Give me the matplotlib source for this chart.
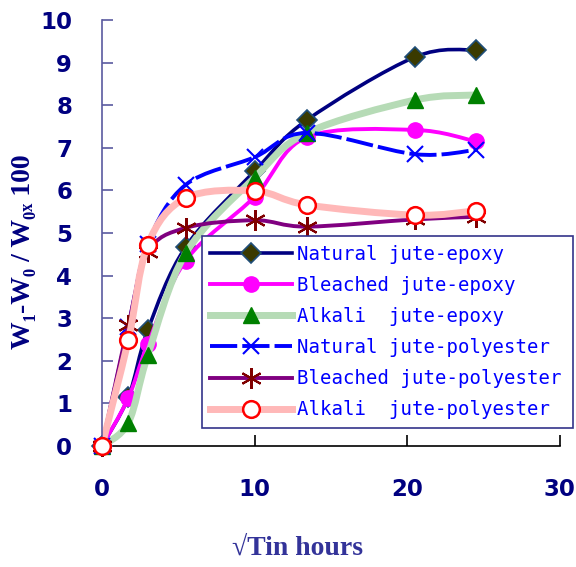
import numpy as np
import matplotlib.pyplot as plt
from matplotlib.path import Path
from matplotlib.patches import PathPatch
from matplotlib.lines import Line2D

# sqrt of time in hours
x = [0, 1.73, 3.0, 5.48, 10.0, 13.42, 20.49, 24.49]

natural_epoxy = [0, 1.15, 2.72, 4.67, 6.45, 7.65, 9.13, 9.30]
bleached_epoxy = [0, 1.13, 2.39, 4.35, 5.85, 7.25, 7.42, 7.15]
alkali_epoxy = [0, 0.55, 2.13, 4.52, 6.30, 7.35, 8.12, 8.24]
natural_poly = [0, 2.80, 4.75, 6.13, 6.78, 7.35, 6.85, 6.95]
bleached_poly = [0, 2.84, 4.55, 5.12, 5.30, 5.15, 5.32, 5.38]
alkali_poly = [0, 2.49, 4.72, 5.82, 5.99, 5.66, 5.42, 5.52]

labels = ["Natural jute-epoxy", "Bleached jute-epoxy", "Alkali  jute-epoxy",
          "Natural jute-polyester", "Bleached jute-polyester", "Alkali  jute-polyester"]


def smooth_path(xs, ys):
    # Excel-like smoothed line: cubic bezier through the points
    p = np.column_stack([xs, ys])
    n = len(p)
    verts = [p[0]]
    codes = [Path.MOVETO]
    for i in range(n - 1):
        p0 = p[i - 1] if i > 0 else p[i]
        p3 = p[i + 2] if i + 2 < n else p[i + 1]
        c1 = p[i] + (p[i + 1] - p0) / 6
        c2 = p[i + 1] - (p3 - p[i]) / 6
        verts += [c1, c2, p[i + 1]]
        codes += [Path.CURVE4] * 3
    return Path(verts, codes)


series = [
    # data, line color, line width, dash, marker, size, face, edge, mew
    (natural_epoxy, "#000080", 2.6, "-", "D", 10, "#3a3a00", "#1f4e79", 1.2),
    (bleached_epoxy, "#ff00ff", 2.8, "-", "o", 11, "#ff00ff", "#ff00ff", 1),
    (alkali_epoxy, "#b6dbb6", 5, "-", "^", 12, "#008000", "#008000", 1),
    (natural_poly, "#0000ff", 2.8, (0, (7, 1.3)), "x", 11, "none", "#0000ff", 1.5),
    (bleached_poly, "#800080", 2.8, "-", (6, 2, 0), 15, "none", "#800000", 1.5),
    (alkali_poly, "#ffb8b8", 5, "-", "o", 12, "white", "#ff0000", 1.8),
]

fig = plt.figure(figsize=(5.76, 5.67), dpi=100)
ax = fig.add_axes([0.177, 0.2134, 0.795, 0.7513])

handles = []
for k, (ys, lc, lw, ls, mk, ms, fc, ec, mew) in enumerate(series):
    patch = PathPatch(smooth_path(x, ys), facecolor="none", edgecolor=lc,
                      linewidth=lw, linestyle=ls, zorder=2 + k * 0.1,
                      capstyle="butt", transform=ax.transData)
    ax.add_patch(patch)
    ax.plot(x, ys, linestyle="none", marker=mk, markersize=ms,
            markerfacecolor=fc, markeredgecolor=ec, markeredgewidth=mew,
            zorder=2.05 + k * 0.1, clip_on=False)
    handles.append(Line2D([], [], color=lc, linewidth=lw, linestyle=ls,
                          marker=mk, markersize=ms, markerfacecolor=fc,
                          markeredgecolor=ec, markeredgewidth=mew))

ax.set_xlim(0, 30)
ax.set_ylim(0, 10)
ax.set_xticks([0, 10, 20, 30])
ax.set_yticks(range(0, 11))

for s in ["top", "right"]:
    ax.spines[s].set_visible(False)
ax.spines["left"].set_color("#5a5aa0")
ax.spines["left"].set_linewidth(1.2)
ax.spines["bottom"].set_color("black")
ax.spines["bottom"].set_linewidth(1.2)
ax.spines["bottom"].set_zorder(1)

ax.tick_params(axis="y", direction="in", length=8, width=1.2, color="#5a5aa0",
               pad=21.5, labelsize=16.5, labelcolor="#000080")
ax.tick_params(axis="x", direction="in", length=8, width=1.2, color="black",
               pad=23, labelsize=16.5, labelcolor="#000080")
for t in ax.get_xticklabels() + ax.get_yticklabels():
    t.set_fontweight("bold")

serif = ["Liberation Serif", "DejaVu Serif"]
fig.text(24 / 576, 1 - 252 / 567, "W\u2081-W\u2080 / W\u2080\u2093 100",
         rotation=90, ha="center", va="center", fontsize=20, fontweight="bold",
         family=serif, color="#000080")
fig.text(298 / 576, 1 - 548 / 567, "\u221aTin hours", ha="center", va="center",
         fontsize=20, fontweight="bold", family=serif, color="#333399")

leg = ax.legend(handles, labels, loc="upper left",
                bbox_to_anchor=(0.218, 0.042, 0.81, 0.451), mode="expand",
                borderaxespad=0, prop={"family": "DejaVu Sans Mono", "size": 13.7},
                labelcolor="#0000ff", handlelength=4.3, handletextpad=0.25,
                labelspacing=0.64, borderpad=0.45, fancybox=False,
                framealpha=1, edgecolor="#33338a")
leg.get_frame().set_linewidth(1.2)
leg.set_zorder(5)

fig.savefig("out.png", dpi=100)
